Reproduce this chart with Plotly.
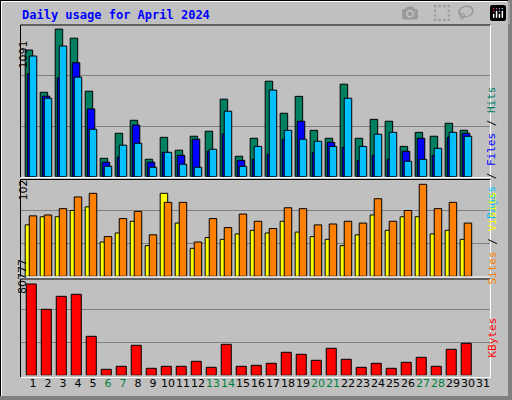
import plotly.graph_objects as go

days = list(range(1, 31))
day_labels = [str(d) for d in range(1, 32)]
weekend_days = [6, 7, 13, 14, 20, 21, 27, 28]

hits = [936,624,1091,1024,632,136,321,417,129,291,196,299,336,573,151,284,706,469,594,343,284,684,284,424,410,224,328,299,395,343]
files = [761,595,731,842,501,107,146,382,107,180,158,277,188,316,121,129,166,277,410,180,254,217,121,158,129,188,284,158,291,321]
pages = [892,580,966,736,351,77,233,247,70,180,92,70,203,484,77,224,640,343,277,262,224,580,224,314,328,114,129,210,328,299]
sites = [57,66,66,73,77,38,48,61,34,92,59,31,43,41,47,51,48,61,49,44,41,34,46,68,51,66,66,47,51,41]
visits = [67,68,75,88,92,44,64,72,46,82,82,38,64,54,69,61,53,76,75,57,58,61,59,86,61,73,102,75,82,59]
kbytes = [80777,58372,69868,71637,34492,5307,7960,26532,6191,7960,7960,12382,7075,27417,7960,8844,10613,20341,18573,13266,23879,14150,7075,10613,6191,11497,15919,7960,22995,28301]

W, H = 512, 400
def py(p):
    return 1 - p / H

line = dict(color="black", width=1)
fig = go.Figure()
def bar(y, color, ax, off, w):
    fig.add_trace(go.Bar(x=days, y=y, marker=dict(color=color, line=line), width=w, offset=off,
                         xaxis="x" if ax == 1 else f"x{ax}", yaxis="y" if ax == 1 else f"y{ax}",
                         showlegend=False, hoverinfo="skip"))

bar(hits, "#008060", 1, -0.52, 0.5)
bar(files, "#0000ff", 1, -0.38, 0.5)
bar(pages, "#00c0ff", 1, -0.25, 0.5)
bar(sites, "#ffff00", 2, -0.52, 0.5)
bar(visits, "#ff8000", 2, -0.25, 0.5)
bar(kbytes, "#ff0000", 3, -0.45, 0.67)

xdom = [21 / W, 490 / W]
ax_common = dict(range=[0.2, 31.47], showgrid=False, zeroline=False, fixedrange=True)
tick_text = [f"<span style='color:#008040'>{l}</span>" if int(l) in weekend_days else l for l in day_labels]
top_full = max(hits) * 151 / 147.4
mid_full = max(visits) * 297 / 276
bot_full = max(kbytes) * 297 / 274

def yax(dom, rng, full):
    return dict(domain=dom, range=[0, rng], tickvals=[full / 3, full * 2 / 3], showticklabels=False, ticks="",
                showgrid=True, gridcolor="#808080", gridwidth=1, zeroline=False, fixedrange=True)

fig.update_layout(
    width=W, height=H, margin=dict(l=0, r=0, t=0, b=0),
    paper_bgcolor="#c0c0c0", plot_bgcolor="#c0c0c0", barmode="overlay",
    font=dict(family="DejaVu Sans Mono", size=11, color="black"),
    xaxis=dict(domain=xdom, anchor="y", showticklabels=False, **ax_common),
    xaxis2=dict(domain=xdom, anchor="y2", showticklabels=False, **ax_common),
    xaxis3=dict(domain=xdom, anchor="y3", tickvals=list(range(1, 32)), ticktext=tick_text, tickangle=0,
                tickfont=dict(family="DejaVu Sans", size=11), ticks="", **ax_common),
    yaxis=yax([py(176.7), py(25.5)], top_full, top_full),
    yaxis2=yax([py(276.3), py(180)], mid_full * 96.3 / 99, mid_full),
    yaxis3=yax([py(375.3), py(280)], bot_full * 95.3 / 99, bot_full),
)

shapes = []
def L(x0, y0, x1, y1, c, w=1):
    shapes.append(dict(type="line", xref="paper", yref="paper", x0=x0 / W, x1=x1 / W, y0=py(y0), y1=py(y1),
                       line=dict(color=c, width=w), layer="above"))
L(0, 0.5, 512, 0.5, "black"); L(0.5, 0, 0.5, 400, "black")
L(1.5, 1.5, 507, 1.5, "white"); L(1.5, 1.5, 1.5, 396, "white")
L(510, 0, 510, 400, "#808080", 4); L(0, 398, 512, 398, "#808080", 4)
for top, bot in [(25, 177.5), (179.5, 277), (279, 377.5)]:
    L(20.5, top, 490.5, top, "black"); L(20.5, top, 20.5, bot, "black")
    L(20.5, bot, 490.5, bot, "white"); L(490.5, top, 490.5, bot, "white")
fig.update_layout(shapes=shapes)

ann = [
    dict(x=20 / W, y=py(15), text="<b>Daily usage for April 2024</b>", showarrow=False, xanchor="left",
         yanchor="middle", font=dict(color="#0000ff", size=12, family="DejaVu Sans Mono")),
    dict(x=14 / W, y=py(39), text="1091", textangle=-90, showarrow=False, font=dict(size=11, family="DejaVu Sans")),
    dict(x=14 / W, y=py(190), text="102", textangle=-90, showarrow=False, font=dict(size=11, family="DejaVu Sans")),
    dict(x=14 / W, y=py(296), text="80777", textangle=-90, showarrow=False, font=dict(size=11, family="DejaVu Sans")),
    dict(x=500 / W, y=py(84), textangle=-90, showarrow=False,
         text="<span style='color:#00c0ff'>Pages</span> / <span style='color:#0000ff'>Files</span> / <span style='color:#008060'>Hits</span>"),
    dict(x=500 / W, y=py(238), textangle=-90, showarrow=False,
         text="<span style='color:#ff8000'>Sites</span> / <span style='color:#ffff00'>Visits</span>"),
    dict(x=500 / W, y=py(360), textangle=-90, showarrow=False, text="<span style='color:#ff0000'>KBytes</span>"),
]
for a in ann:
    a.update(xref="paper", yref="paper")
fig.update_layout(annotations=ann)
fig.write_html("out.html")

with open("out.html", encoding="utf-8") as f:
    html = f.read()
html = html.replace("<body>", "<body style=\"margin:0;overflow:hidden\">", 1)
with open("out.html", "w", encoding="utf-8") as f:
    f.write(html)
